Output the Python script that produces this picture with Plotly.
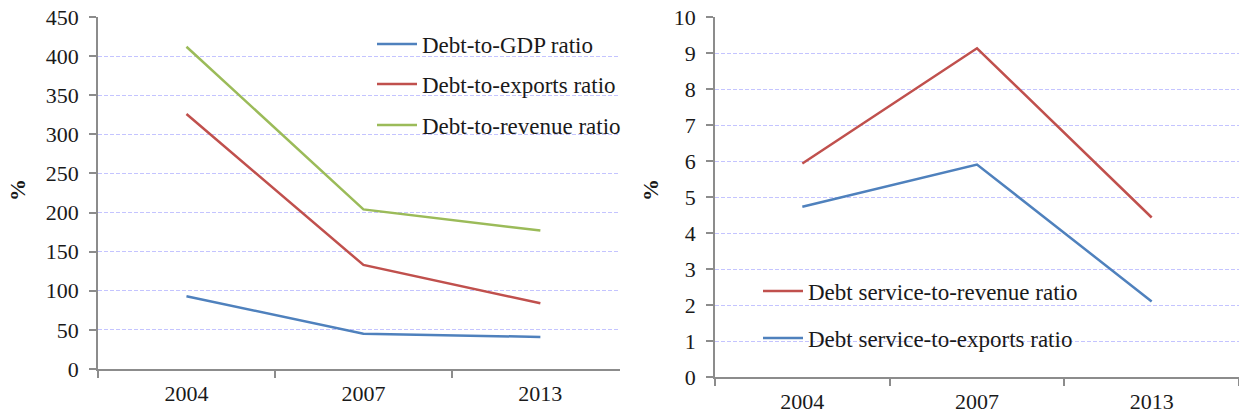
import plotly.graph_objects as go

years = ["2004", "2007", "2013"]
debt_gdp = [93, 45, 41]
debt_exports = [326, 133, 84]
debt_revenue = [412, 204, 177]
ds_revenue = [5.93, 9.13, 4.43]
ds_exports = [4.73, 5.9, 2.1]

BLUE = "#4F81BD"
RED = "#C0504D"
GREEN = "#9BBB59"
FONT = "Liberation Serif, Times New Roman, serif"
W, H = 1239, 415

fig = go.Figure()
fig.add_trace(go.Scatter(x=years, y=debt_gdp, mode="lines", name="Debt-to-GDP ratio",
                         line=dict(color=BLUE, width=2.5), xaxis="x", yaxis="y", legend="legend"))
fig.add_trace(go.Scatter(x=years, y=debt_exports, mode="lines", name="Debt-to-exports ratio",
                         line=dict(color=RED, width=2.5), xaxis="x", yaxis="y", legend="legend2"))
fig.add_trace(go.Scatter(x=years, y=debt_revenue, mode="lines", name="Debt-to-revenue ratio",
                         line=dict(color=GREEN, width=2.5), xaxis="x", yaxis="y", legend="legend3"))
fig.add_trace(go.Scatter(x=years, y=ds_revenue, mode="lines", name="Debt service-to-revenue ratio",
                         line=dict(color=RED, width=2.5), xaxis="x2", yaxis="y2", legend="legend4"))
fig.add_trace(go.Scatter(x=years, y=ds_exports, mode="lines", name="Debt service-to-exports ratio",
                         line=dict(color=BLUE, width=2.5), xaxis="x2", yaxis="y2", legend="legend5"))

def px_x(p):
    return p / W

def px_y(p):
    return 1 - p / H

axis_common = dict(showline=True, linecolor="#8C8C8C", linewidth=1.5,
                   ticks="outside", ticklen=7, tickcolor="#8C8C8C", tickwidth=1.5,
                   automargin=False,
                   tickfont=dict(family=FONT, size=22, color="#1a1a1a"))
grid = dict(showgrid=True, gridcolor="#C4C4FF", griddash="4px,2px", gridwidth=1, zeroline=False)

fig.update_layout(
    width=W, height=H, margin=dict(l=0, r=0, t=0, b=0, autoexpand=False),
    paper_bgcolor="white", plot_bgcolor="white",
    font=dict(family=FONT, color="#1a1a1a"),
    xaxis=dict(domain=[px_x(98), px_x(620)], type="category", range=[-0.5, 2.45],
               tickson="boundaries", showgrid=False, anchor="y", ticklabelstandoff=4, **axis_common),
    yaxis=dict(domain=[px_y(369), px_y(17)], range=[0, 450], dtick=50, anchor="x",
               ticklabelstandoff=6, **grid, **axis_common),
    xaxis2=dict(domain=[px_x(715), 1.0], type="category", range=[-0.5, 2.5],
                tickson="boundaries", showgrid=False, anchor="y2", ticklabelstandoff=4, **axis_common),
    yaxis2=dict(domain=[px_y(377), px_y(17)], range=[0, 10], dtick=1, anchor="x2",
                ticklabelstandoff=6, **grid, **axis_common),
)

legend_base = dict(bgcolor="rgba(0,0,0,0)", borderwidth=0, xanchor="left", yanchor="middle",
                   font=dict(family=FONT, size=23, color="#1a1a1a"), itemwidth=40)
fig.update_layout(
    legend=dict(x=px_x(372), y=px_y(44), **legend_base),
    legend2=dict(x=px_x(372), y=px_y(84), **legend_base),
    legend3=dict(x=px_x(372), y=px_y(125), **legend_base),
    legend4=dict(x=px_x(758), y=px_y(291), **legend_base),
    legend5=dict(x=px_x(758), y=px_y(338), **legend_base),
    showlegend=True,
)

fig.add_annotation(x=px_x(18), y=px_y(190), xref="paper", yref="paper", text="<b>%</b>",
                   xanchor="center", yanchor="middle",
                   textangle=-90, showarrow=False, font=dict(family=FONT, size=22))
fig.add_annotation(x=px_x(651), y=px_y(190), xref="paper", yref="paper", text="<b>%</b>",
                   xanchor="center", yanchor="middle",
                   textangle=-90, showarrow=False, font=dict(family=FONT, size=22))

fig.write_html("out.html", config={"displayModeBar": False},
               post_script="document.body.style.margin='0';document.body.style.overflow='hidden';")
